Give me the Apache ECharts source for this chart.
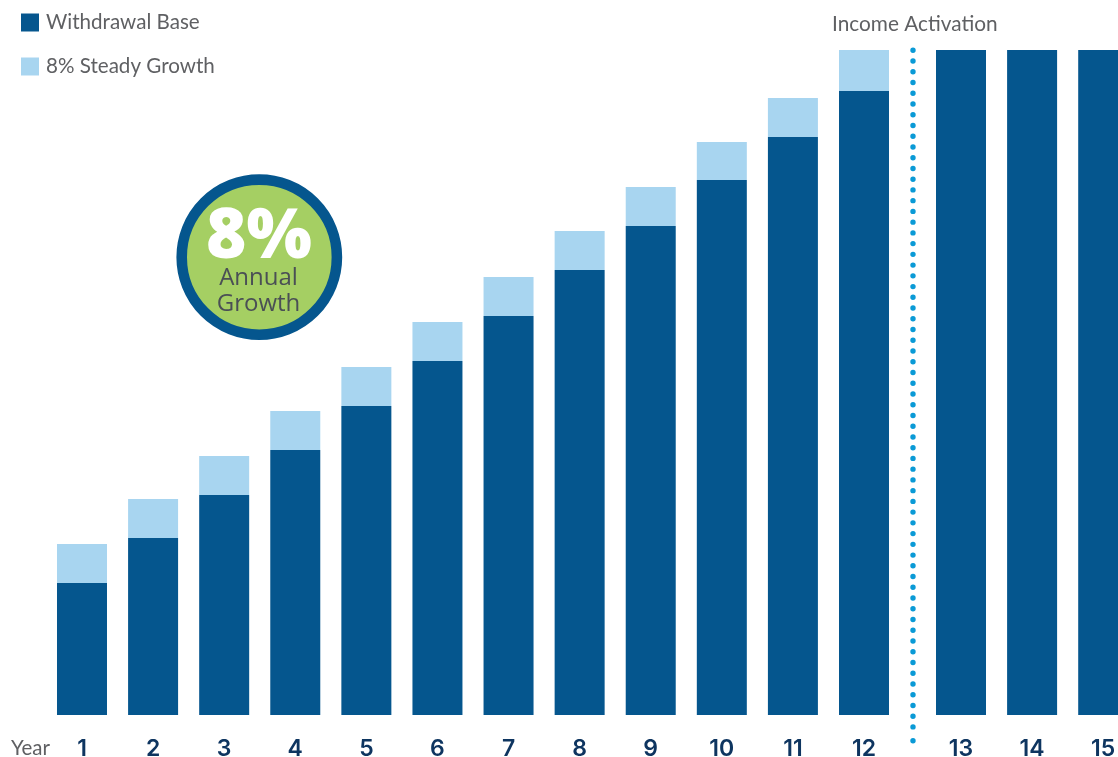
<!DOCTYPE html>
<html>
<head>
<meta charset="utf-8">
<style>html,body{margin:0;padding:0;background:#fff;overflow:hidden}#chart{width:1118px;height:757px}</style>
<script src="https://cdn.jsdelivr.net/npm/echarts@6/dist/echarts.min.js"></script>
</head>
<body>
<div id="chart"></div>
<script>
// Accumulation years, then the years after income is switched on.
const accumulationYears = ['1','2','3','4','5','6','7','8','9','10','11','12'];
const incomeYears = ['13','14','15'];
const withdrawalBase = [132,177,220,265,309,354,399,445,489,535,578,624];
const steadyGrowth = [39,39,39,39,39,39,39,39,39,38,39,41];
const incomeBase = [665,665,665];
const axisMax = 665;

const NAVY = '#05568e', SKY = '#a8d5f0', DOTS = '#0a9ad6', GREY = '#5f6063', NUM = '#0e3560';

const chart = echarts.init(document.getElementById('chart'), null, {renderer: 'canvas'});

const yearLabels = {
  show: true, margin: 23, color: NUM, fontFamily: 'Inter', fontWeight: 600, fontSize: 23,
  interval: 0
};
const catAxis = (gridIndex, data) => ({
  type: 'category', gridIndex, data,
  axisLine: {show: false}, axisTick: {show: false}, axisLabel: yearLabels
});
const valAxis = gridIndex => ({
  type: 'value', gridIndex, min: 0, max: axisMax, show: false, splitLine: {show: false}
});

chart.setOption({
  animation: false,
  backgroundColor: '#fff',
  grid: [
    {left: 46.45, top: 50, width: 853.1, height: 665, outerBoundsMode: 'none'},
    {left: 925.45, top: 50, width: 213.3, height: 665, outerBoundsMode: 'none'}
  ],
  xAxis: [catAxis(0, accumulationYears), catAxis(1, incomeYears)],
  yAxis: [valAxis(0), valAxis(1)],
  legend: {
    left: 21, top: 12, padding: 0, orient: 'vertical', itemWidth: 18, itemHeight: 18, itemGap: 23,
    selectedMode: false, icon: 'rect',
    textStyle: {color: GREY, fontFamily: 'Lato', fontSize: 20.6, padding: [0, 0, 0, 2]},
    data: ['Withdrawal Base', '8% Steady Growth']
  },
  series: [
    {name: 'Withdrawal Base', type: 'bar', stack: 'a', xAxisIndex: 0, yAxisIndex: 0,
     barWidth: 50, data: withdrawalBase, itemStyle: {color: NAVY}},
    {name: '8% Steady Growth', type: 'bar', stack: 'a', xAxisIndex: 0, yAxisIndex: 0,
     barWidth: 50, data: steadyGrowth, itemStyle: {color: SKY}},
    {name: 'Withdrawal Base', type: 'bar', xAxisIndex: 1, yAxisIndex: 1,
     barWidth: 50, data: incomeBase, itemStyle: {color: NAVY}}
  ],
  graphic: [
    {type: 'text', left: 11, top: 738, style: {text: 'Year', fill: GREY, font: '20.5px Lato'}},
    {type: 'text', left: 832, top: 14, style: {text: 'Income Activation', fill: GREY, font: '20.8px Lato'}},
    // Dotted divider marking income activation, with a slightly detached last dot
    {type: 'line', shape: {x1: 913, y1: 50.3, x2: 913, y2: 728},
     style: {stroke: DOTS, lineWidth: 5.4, lineCap: 'round', lineDash: [0, 10.74]}},
    {type: 'circle', shape: {cx: 913, cy: 740.7, r: 2.7}, style: {fill: DOTS}},
    // Growth badge
    {type: 'circle', shape: {cx: 259.3, cy: 257.2, r: 77.6}, style: {fill: '#a5cf63', stroke: NAVY, lineWidth: 10.6}},
    {type: 'text', x: 259, y: 238, style: {
      text: '8%', fill: '#fff', font: '800 69px "Open Sans"', align: 'center', verticalAlign: 'middle',
      shadowColor: 'rgba(50,60,40,0.6)', shadowBlur: 18, shadowOffsetX: 3, shadowOffsetY: 5}},
    {type: 'text', x: 258.5, y: 278, style: {text: 'Annual', fill: '#4a4f55', font: '24px "Open Sans"', align: 'center', verticalAlign: 'middle'}},
    {type: 'text', x: 258.5, y: 304, style: {text: 'Growth', fill: '#4a4f55', font: '24px "Open Sans"', align: 'center', verticalAlign: 'middle'}}
  ]
});
</script>
</body>
</html>
